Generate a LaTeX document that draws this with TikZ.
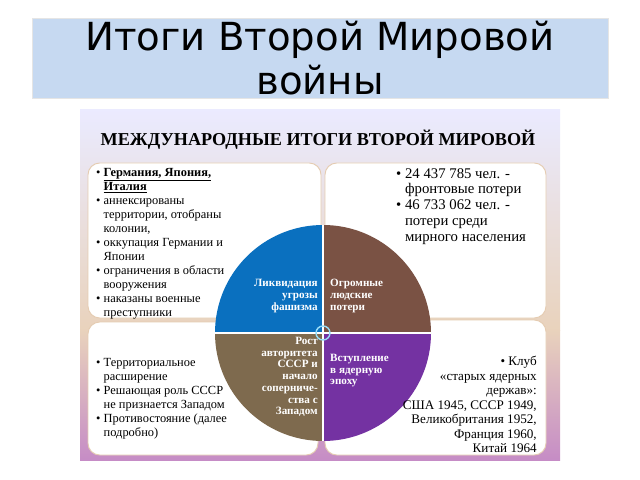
\documentclass[tikz,border=0pt]{standalone}
\usepackage{fontspec}
\setmainfont{Liberation Serif}
\newfontfamily\titlefont{DejaVu Sans}
\usetikzlibrary{positioning}
\definecolor{titleblue}{HTML}{C6D9F1}
\definecolor{qblue}{HTML}{0A70BF}
\definecolor{qbrown}{HTML}{7A5244}
\definecolor{qolive}{HTML}{7E6A4E}
\definecolor{qpurple}{HTML}{7432A2}
\tikzset{
  panel/.style = {draw=brown!40, fill=white, rounded corners=10pt, line width=0.8pt},
  bullets/.style = {align=left, font=\fontsize{10.6}{12}\selectfont, inner sep=0pt, anchor=north west},
  quadtext/.style = {text=white, font=\bfseries\fontsize{9.5}{10}\selectfont, inner sep=0pt},
}
\begin{document}
\begin{tikzpicture}[x=0.03cm,y=-0.03cm]
\useasboundingbox (0,0) rectangle (640,480);
% title
\fill[titleblue] (32,18) rectangle (608,98);
\draw[white!80!gray] (32,18) rectangle (608,98);
\node[font=\titlefont\fontsize{33}{38}\selectfont, align=center] (title) at (320,58) {Итоги Второй Мировой\\войны};
% picture panel
\shade[top color=blue!8, bottom color=brown!35] (80,110) rectangle (560,330);
\shade[top color=brown!35, bottom color=violet!45] (80,330) rectangle (560,460);
\node[font=\bfseries\fontsize{15.5}{18}\selectfont] (head) at (318,140) {МЕЖДУНАРОДНЫЕ ИТОГИ ВТОРОЙ МИРОВОЙ};
\draw[panel] (88,163) rectangle (321,318);
\draw[panel] (325,163) rectangle (546,318);
\draw[panel] (88,322) rectangle (318,455);
\draw[panel] (325,320) rectangle (546,455);
% circle quadrants
\begin{scope}\clip (323,333) rectangle (200,210); \fill[qblue] (323,333) circle (108); \end{scope}
\begin{scope}\clip (323,333) rectangle (450,210); \fill[qbrown] (323,333) circle (108); \end{scope}
\begin{scope}\clip (323,333) rectangle (200,450); \fill[qolive] (323,333) circle (108); \end{scope}
\begin{scope}\clip (323,333) rectangle (450,450); \fill[qpurple] (323,333) circle (108); \end{scope}
\draw[white, line width=1pt] (215,333) -- (431,333) (323,225) -- (323,441);
\draw[white!60!cyan, line width=1.2pt] (323,333) circle (7);
% texts
\node[bullets] (tl) at (96,168) {• \underline{\textbf{Германия, Япония,}}\\\phantom{• }\underline{\textbf{Италия}}\\
• аннексированы\\\phantom{• }территории, отобраны\\\phantom{• }колонии,\\
• оккупация Германии и\\\phantom{• }Японии\\
• ограничения в области\\\phantom{• }вооружения\\
• наказаны военные\\\phantom{• }преступники};
\node[bullets, font=\fontsize{12.6}{13.5}\selectfont] (tr) at (396,168) {• 24 437 785 чел. -\\\phantom{• }фронтовые потери\\
• 46 733 062 чел. -\\\phantom{• }потери среди\\\phantom{• }мирного населения};
\node[bullets] (bl) at (96,358) {• Территориальное\\\phantom{• }расширение\\
• Решающая роль СССР\\\phantom{• }не признается Западом\\
• Противостояние (далее\\\phantom{• }подробно)};
\node[bullets, align=right, anchor=north east, font=\fontsize{11.2}{12.4}\selectfont] (br) at (537,356) {• Клуб\\«старых ядерных\\держав»:\\США 1945, СССР 1949,\\Великобритания 1952,\\Франция 1960,\\Китай 1964};
\node[quadtext, align=right, anchor=east] (q1) at (318,296) {Ликвидация\\угрозы\\фашизма};
\node[quadtext, align=left, anchor=west] (q2) at (330,296) {Огромные\\людские\\потери};
\node[quadtext, align=right, anchor=north east] (q3) at (318,337) {Рост\\авторитета\\СССР и\\начало\\соперниче-\\ства с\\Западом};
\node[quadtext, align=left, anchor=north west] (q4) at (330,354) {Вступление\\в ядерную\\эпоху};
\end{tikzpicture}
\end{document}
